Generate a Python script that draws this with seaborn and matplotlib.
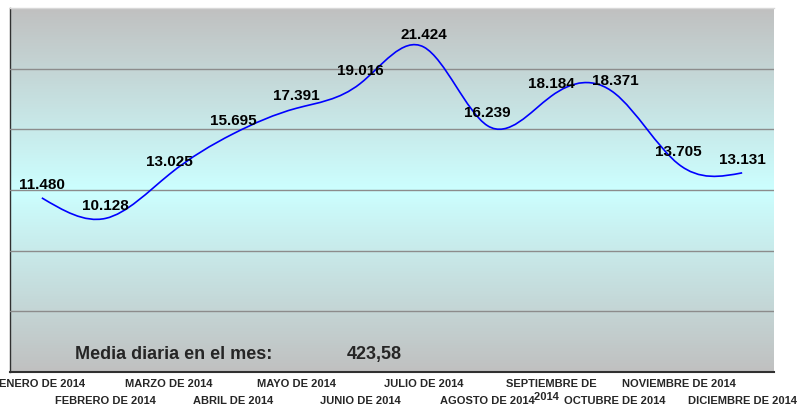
#!/usr/bin/env python3
"""
Media diaria por mes 2014 - linea suavizada con etiquetas
"""

import numpy as np
import matplotlib
matplotlib.use('Agg')
import matplotlib.pyplot as plt
from matplotlib.path import Path
from matplotlib.patches import PathPatch
import seaborn as sns

# Datos
meses = ['ENERO DE 2014', 'FEBRERO DE 2014', 'MARZO DE 2014', 'ABRIL DE 2014',
         'MAYO DE 2014', 'JUNIO DE 2014', 'JULIO DE 2014', 'AGOSTO DE 2014',
         'SEPTIEMBRE DE\n2014   ', 'OCTUBRE DE 2014', 'NOVIEMBRE DE 2014',
         'DICIEMBRE DE 2014']
valores = [11.480, 10.128, 13.025, 15.695, 17.391, 19.016,
           21.424, 16.239, 18.184, 18.371, 13.705, 13.131]
etiquetas = ['11.480', '10.128', '13.025', '15.695', '17.391', '19.016',
             '21.424', '16.239', '18.184', '18.371', '13.705', '13.131']
texto_media = 'Media diaria en el mes:'
valor_media = '423,58'

sns.set_style('white')
plt.rcParams['font.family'] = ['Liberation Sans', 'DejaVu Sans']

fig = plt.figure(figsize=(8.1, 4.05), dpi=100)
ax = fig.add_axes([10 / 810, 1 - 372 / 405, 764 / 810, 364 / 405])

# Fondo degradado gris -> cian -> gris
gris = np.array([192, 192, 192]) / 255
cian = np.array([204, 255, 255]) / 255
t = np.abs(np.linspace(-1, 1, 256))[:, None]
grad = (gris * t + cian * (1 - t))[:, None, :]
ax.imshow(grad, extent=[-0.5, 11.5, 0, 24], aspect='auto', zorder=0,
          interpolation='bilinear')

ax.set_xlim(-0.5, 11.5)
ax.set_ylim(0, 24)
ax.set_yticks([4, 8, 12, 16, 20])
ax.set_yticklabels([])
ax.yaxis.grid(True, color='#8c8c8c', linewidth=1, zorder=1)
ax.set_axisbelow(False)
ax.tick_params(axis='y', length=0)

# Linea suavizada: spline cubica natural, cada tramo como curva Bezier
x = np.arange(len(valores), dtype=float)
y = np.array(valores)
n = len(y)
A = np.zeros((n, n))
b = np.zeros(n)
A[0, 0] = A[-1, -1] = 1
for i in range(1, n - 1):
    A[i, i - 1], A[i, i], A[i, i + 1] = 1, 4, 1
    b[i] = 6 * (y[i + 1] - 2 * y[i] + y[i - 1])
M = np.linalg.solve(A, b)
m = np.empty(n)
m[:-1] = (y[1:] - y[:-1]) - (2 * M[:-1] + M[1:]) / 6
m[-1] = (y[-1] - y[-2]) + (M[-2] + 2 * M[-1]) / 6
verts = [(x[0], y[0])]
codes = [Path.MOVETO]
for i in range(n - 1):
    verts += [(x[i] + 1 / 3, y[i] + m[i] / 3),
              (x[i + 1] - 1 / 3, y[i + 1] - m[i + 1] / 3),
              (x[i + 1], y[i + 1])]
    codes += [Path.CURVE4] * 3
ax.add_patch(PathPatch(Path(verts, codes), facecolor='none',
                       edgecolor='#0000ff', linewidth=1.2, zorder=3))

# Etiquetas de datos
for xi, v, lab in zip(x, valores, etiquetas):
    ax.annotate(lab, (xi, v), xytext=(0, 9), textcoords='offset points',
                ha='center', va='center', fontsize=11, fontweight='bold',
                color='black', zorder=4)

# Etiquetas del eje x en dos filas
ax.set_xticks(x)
ax.set_xticklabels(meses, fontsize=8, fontweight='bold')
ax.tick_params(axis='x', length=0)
for i, tick in enumerate(ax.xaxis.get_major_ticks()):
    tick.set_pad(5 if i % 2 == 0 else 17)
ax.get_xticklabels()[8].set_linespacing(1.35)

# Texto de media
ax.text(0.085, 0.047, texto_media, transform=ax.transAxes, fontsize=13,
        fontweight='bold', va='center', ha='left', zorder=4)
ax.text(0.441, 0.047, valor_media, transform=ax.transAxes, fontsize=13,
        fontweight='bold', va='center', ha='left', zorder=4)

# Bordes
for s in ['left', 'bottom']:
    ax.spines[s].set_visible(True)
    ax.spines[s].set_color('#303030')
ax.spines['left'].set_linewidth(1)
ax.spines['bottom'].set_linewidth(1.5)
ax.spines['top'].set_color('#d8d8d8')
ax.spines['top'].set_linewidth(1)
ax.spines['right'].set_visible(False)

fig.savefig('out.png', dpi=100)
